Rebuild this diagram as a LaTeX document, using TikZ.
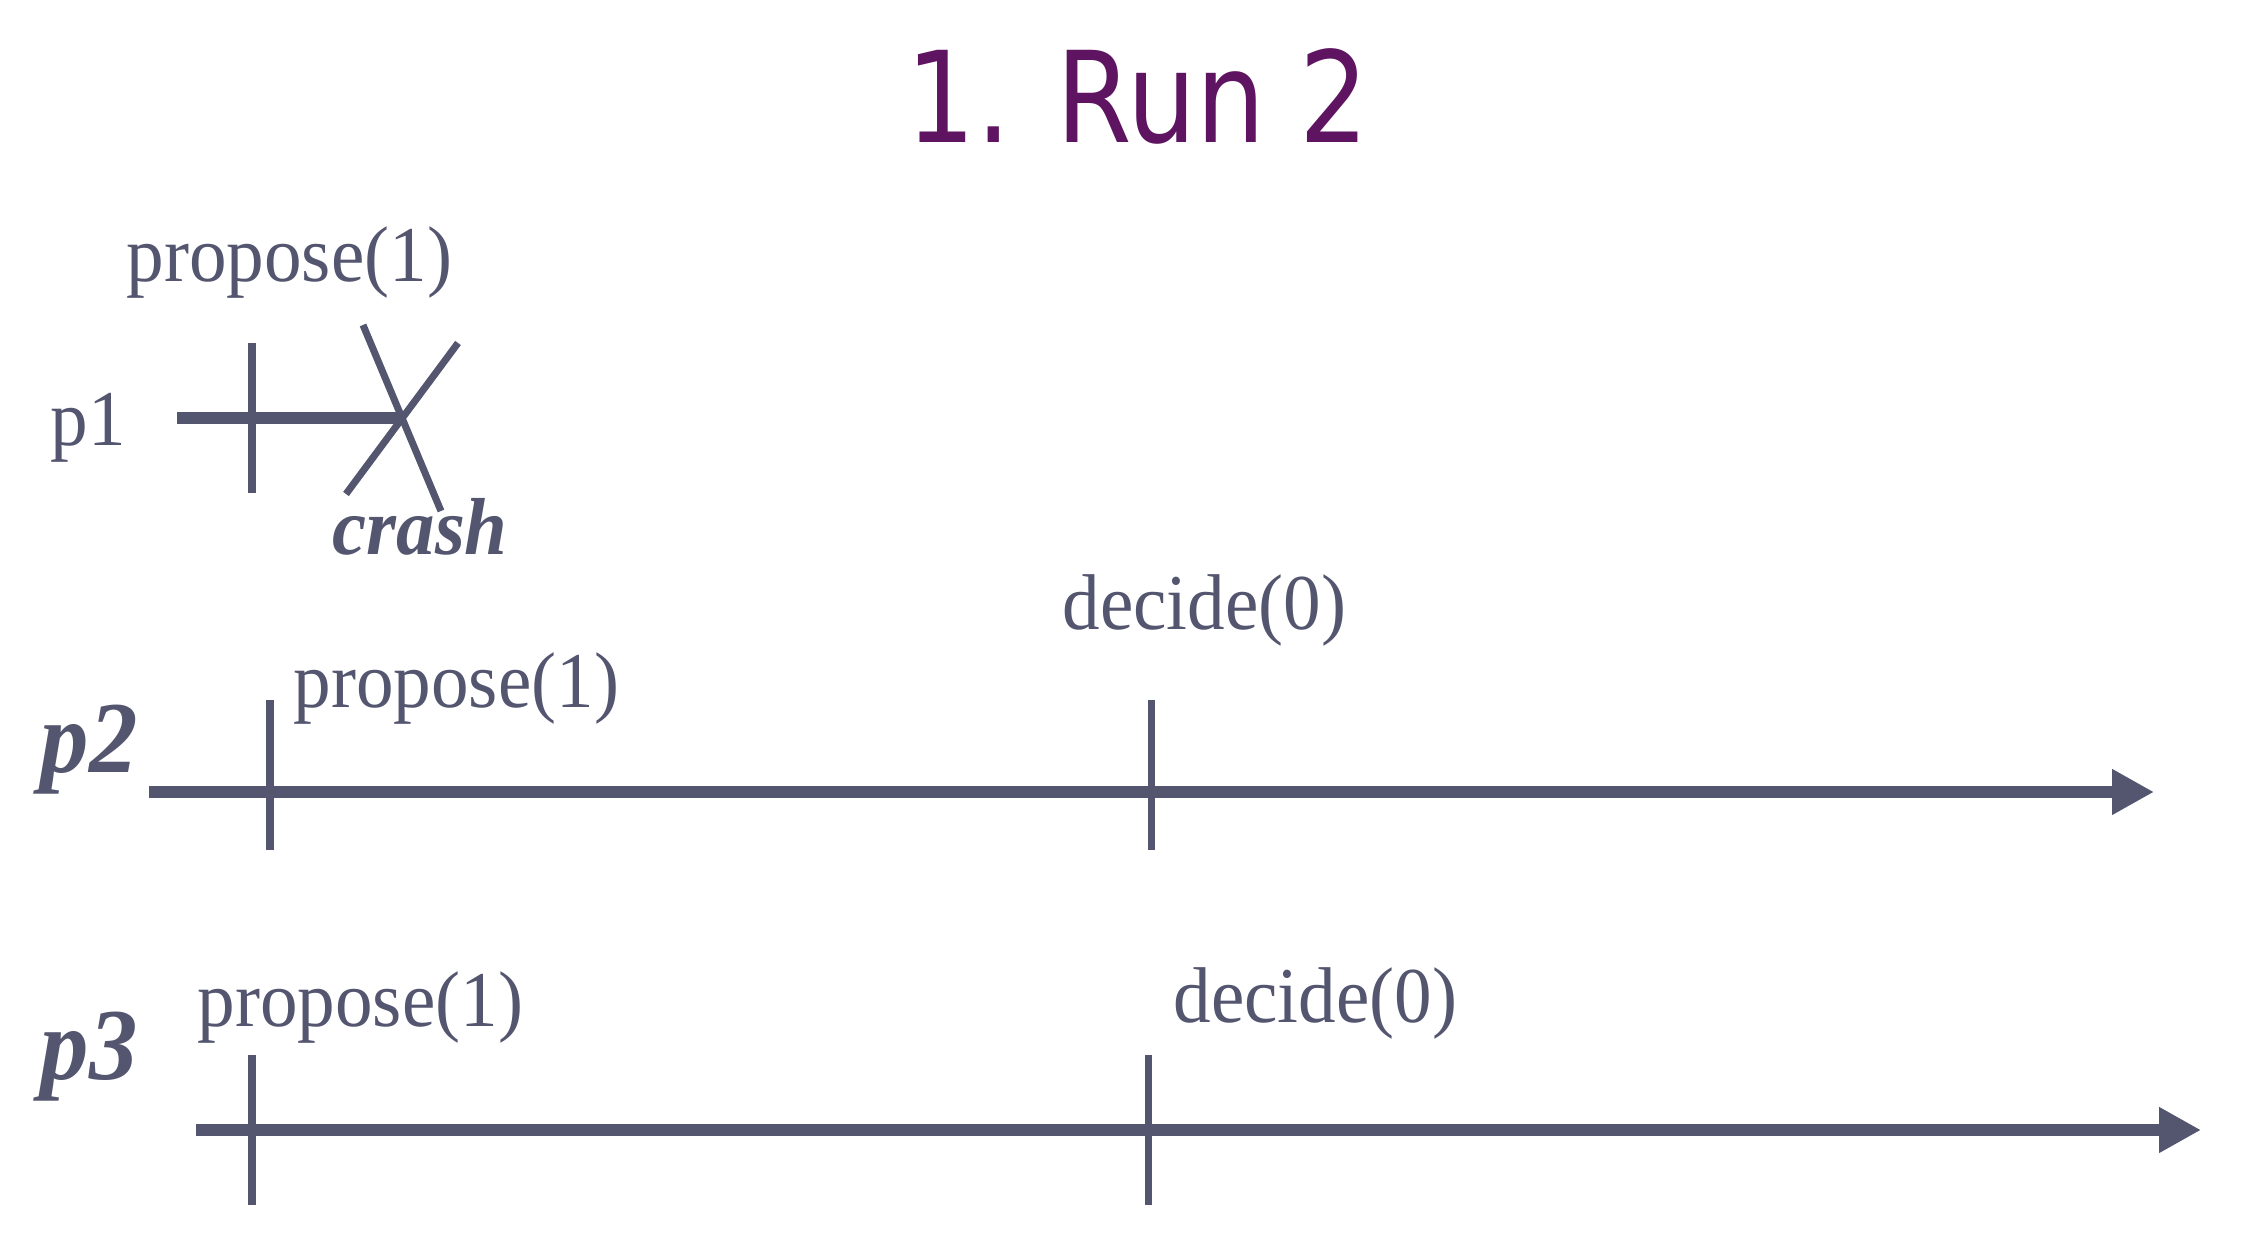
\documentclass[tikz,border=0pt]{standalone}
\usepackage{fontspec}
\setmainfont{Liberation Serif}
\newfontfamily\titlefont{DejaVu Sans}
\usetikzlibrary{arrows.meta}
\definecolor{runink}{RGB}{84,86,112}
\definecolor{runtitle}{RGB}{94,20,96}

\begin{document}
\begin{tikzpicture}[every node/.style={inner sep=0pt,text=runink},%
					lbl/.style={anchor=base west,xscale=0.95,font=\fontsize{22.5}{27}\selectfont},%
					proc/.style={anchor=base west,xscale=0.95,font=\fontsize{29}{33}\selectfont\bfseries\itshape},%
					timeline/.style={draw=runink,line width=3.3pt},%
					tickline/.style={draw=runink,line width=2pt}]
\useasboundingbox (0,0) rectangle (22.44,12.42);

\node [text=runtitle,font=\titlefont\fontsize{36}{40}\selectfont,anchor=base,xscale=0.86] (title) at (11.38,10.99) {1. Run 2};

% processes
\node [lbl] (p1) at (0.50,7.96) {p1};
\node [proc] (p2) at (0.40,4.69) {p2};
\node [proc] (p3) at (0.40,1.62) {p3};

\foreach \a\b\c\d in { prop1/1.26/9.60/{propose(1)},prop2/2.93/5.34/{propose(1)},dec2/10.62/6.12/{decide(0)},prop3/1.97/2.15/{propose(1)},dec3/11.73/2.19/{decide(0)}}
	\node [lbl] (\a) at (\b,\c) {\d};
\node [lbl,font=\fontsize{23}{28}\selectfont\bfseries\itshape] (crash) at (3.32,6.87) {crash};

\coordinate (p1start) at (1.77,8.24);
\coordinate (p1end) at (4.03,8.24);
\coordinate (p2start) at (1.49,4.50);
\coordinate (p2end) at (21.54,4.50);
\coordinate (p3start) at (1.96,1.12);
\coordinate (p3end) at (22.01,1.12);

\draw [timeline] (p1start) -- (p1end);
\foreach \from/\to in {p2start/p2end,p3start/p3end}
	\draw [timeline,-{Triangle[length=4.2mm,width=4.3mm]}] (\from) -- (\to);

% event ticks
\foreach \x/\top/\bot in {2.52/8.99/7.49,2.70/5.42/3.92,11.51/5.42/3.92,2.52/1.87/0.37,11.48/1.87/0.37}
	\draw [tickline] (\x,\top) -- (\x,\bot);

% crash mark
\draw [tickline] (p1end) ++(-0.40,0.93) -- ++(0.78,-1.86);
\draw [tickline] (p1end) ++(0.55,0.75) -- ++(-1.12,-1.51);

\end{tikzpicture}
\end{document}
